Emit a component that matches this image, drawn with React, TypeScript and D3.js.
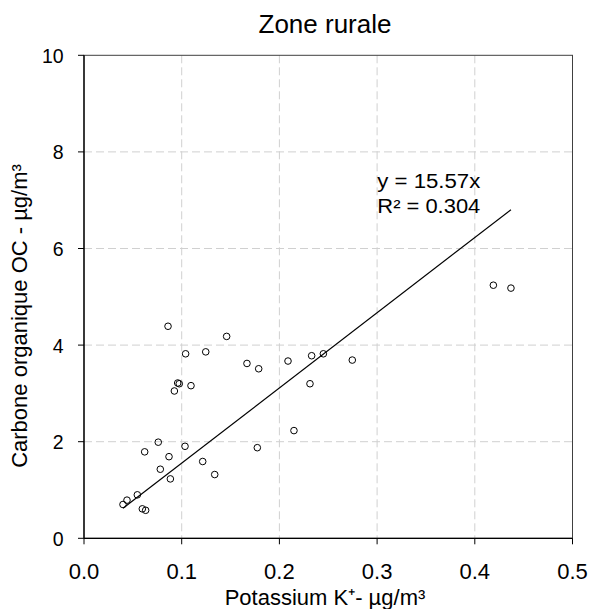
import React from "react";
import * as d3 from "d3";

const kValues = [0.086, 0.146, 0.104, 0.1246, 0.1668, 0.1788, 0.0959, 0.0975, 0.0925, 0.1095, 0.076, 0.1034, 0.1774, 0.0621, 0.087, 0.1215, 0.0781, 0.1338, 0.0884, 0.0546, 0.044, 0.0399, 0.0597, 0.0631, 0.2088, 0.233, 0.245, 0.2746, 0.2313, 0.2149, 0.419, 0.437];
const ocValues = [4.39, 4.18, 3.82, 3.86, 3.62, 3.51, 3.215, 3.2, 3.05, 3.16, 1.99, 1.905, 1.876, 1.79, 1.69, 1.59, 1.43, 1.32, 1.23, 0.9, 0.79, 0.7, 0.61, 0.58, 3.67, 3.78, 3.82, 3.69, 3.2, 2.23, 5.24, 5.18];
const xTicks = [0, 0.1, 0.2, 0.3, 0.4, 0.5];
const yTicks = [0, 2, 4, 6, 8, 10];
const slope = 15.57;
const r2 = 0.304;

export default function App() {
  const W = 591, H = 609;
  const left = 84, right = 572.5, top = 55.3, bottom = 538.3;
  const x = d3.scaleLinear().domain([0, 0.5]).range([left, right]);
  const y = d3.scaleLinear().domain([0, 10]).range([bottom, top]);
  const font = "'Liberation Sans', Arial, sans-serif";
  const xMin = d3.min(kValues) as number;
  const xMax = d3.max(kValues) as number;
  const line = d3.line<number>().x(d => x(d)).y(d => y(slope * d));
  return (
    <svg width={W} height={H} style={{ position: "absolute", left: 0, top: 0 }} fontFamily={font}>
      <rect x={0} y={0} width={W} height={H} fill="#fff" />
      <text x={325} y={33.3} textAnchor="middle" fontSize={26} fill="#000">Zone rurale</text>
      {xTicks.slice(1, -1).map(t => (
        <line key={"gx" + t} x1={x(t)} x2={x(t)} y1={top} y2={bottom} stroke="#d0d0d0" strokeDasharray="8,4" strokeWidth={1} />
      ))}
      {yTicks.slice(1, -1).map(t => (
        <line key={"gy" + t} x1={left} x2={right} y1={y(t)} y2={y(t)} stroke="#d0d0d0" strokeDasharray="8,4" strokeWidth={1} />
      ))}
      <rect x={left} y={top} width={right - left} height={bottom - top} fill="none" stroke="#404040" strokeWidth={1} />
      <line x1={left} x2={left} y1={top} y2={bottom} stroke="#000" strokeWidth={1.3} />
      <line x1={left} x2={right} y1={bottom} y2={bottom} stroke="#000" strokeWidth={1.3} />
      {xTicks.map(t => (
        <g key={"xt" + t}>
          <line x1={x(t)} x2={x(t)} y1={bottom} y2={bottom + 6} stroke="#000" />
          <text x={x(t)} y={579.3} textAnchor="middle" fontSize={22}>{t.toFixed(1)}</text>
        </g>
      ))}
      {yTicks.map(t => (
        <g key={"yt" + t}>
          <line x1={left - 6} x2={left} y1={y(t)} y2={y(t)} stroke="#000" />
          <text x={63.7} y={y(t) + 7.5} textAnchor="end" fontSize={19.5}>{t}</text>
        </g>
      ))}
      <text x={325} y={605} textAnchor="middle" fontSize={22}>Potassium K⁺- µg/m³</text>
      <text transform={`translate(${26.7},${316}) rotate(-90)`} textAnchor="middle" fontSize={22}>Carbone organique OC - µg/m³</text>
      <path d={line([xMin, xMax]) || ""} stroke="#000" strokeWidth={1.2} fill="none" />
      {kValues.map((k, i) => (
        <circle key={i} cx={x(k)} cy={y(ocValues[i])} r={3.3} fill="none" stroke="#000" strokeWidth={1} />
      ))}
      <text x={377.3} y={188.3} fontSize={19.5} textLength={103} lengthAdjust="spacingAndGlyphs">y = {slope}x</text>
      <text x={377.3} y={213.3} fontSize={19.5} textLength={103} lengthAdjust="spacingAndGlyphs">R² = {r2}</text>
    </svg>
  );
}
